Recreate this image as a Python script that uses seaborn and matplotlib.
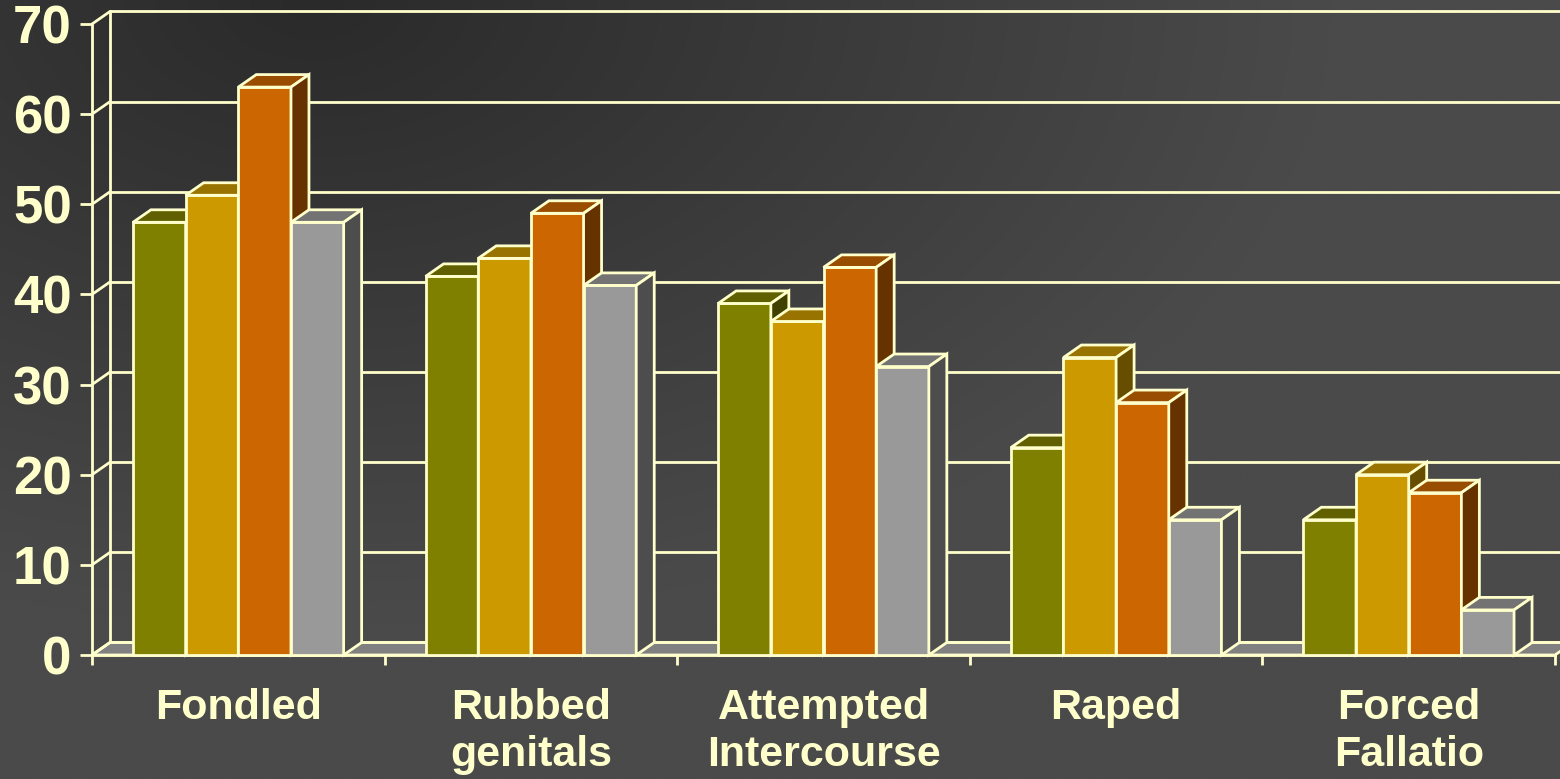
import numpy as np
import pandas as pd
import seaborn as sns
import matplotlib.pyplot as plt
from matplotlib.patches import Polygon
from matplotlib.colors import to_rgb

categories = ['Fondled', 'Rubbed\ngenitals', 'Attempted\nIntercourse', 'Raped', 'Forced\nFallatio']
series = ['Series 1', 'Series 2', 'Series 3', 'Series 4']
series1 = [48, 42, 39, 23, 15]
series2 = [51, 44, 37, 33, 20]
series3 = [63, 49, 43, 28, 18]
series4 = [48, 41, 32, 15, 5]
yticks = [0, 10, 20, 30, 40, 50, 60, 70]

colors = ['#808000', '#CC9900', '#CC6600', '#999999']
cream = '#FFFFCC'
LW = 2.0

df = pd.DataFrame({
    'category': categories * 4,
    'series': [s for s in series for _ in categories],
    'value': series1 + series2 + series3 + series4,
})

sns.set_style('ticks')
plt.rcParams['font.family'] = ['Liberation Sans', 'DejaVu Sans']
plt.rcParams['font.weight'] = 'bold'

fig = plt.figure(figsize=(15.6, 7.79), dpi=100)

# dark gradient backdrop
bg = fig.add_axes([0, 0, 1, 1], zorder=-5)
gx, gy = np.meshgrid(np.linspace(0, 1, 400), np.linspace(0, 1, 200))
d = np.clip(np.sqrt(((gx - 0.2) / 0.65) ** 2 + (gy / 0.8) ** 2), 0, 1)
g = (0x2a + d * (0x4a - 0x2a)) / 255
bg.imshow(np.dstack([g, g, g]), aspect='auto', extent=[0, 1, 0, 1], interpolation='bicubic')
bg.axis('off')

ax = fig.add_axes([92 / 1560, 124 / 779, 1463 / 1560, 631 / 779])
ax.set_facecolor('none')

# depth offset of the 3d look, in data units
DX = 18 / 292.6
DY = 12.5 / 9.0

# floor
ax.add_patch(Polygon([(-0.5, 0), (4.5, 0), (4.5 + DX, DY), (-0.5 + DX, DY)],
                     closed=True, facecolor='#808080', edgecolor=cream, lw=LW,
                     zorder=1, clip_on=False))

# back wall grid and side connectors
for v in yticks:
    ax.plot([-0.5 + DX, 4.6 + DX], [v + DY, v + DY], color=cream, lw=LW, zorder=1.5, clip_on=False)
    ax.plot([-0.5, -0.5 + DX], [v, v + DY], color=cream, lw=LW, zorder=1.5, clip_on=False)
ax.plot([-0.5 + DX, -0.5 + DX], [DY, 70 + DY], color=cream, lw=LW, zorder=1.5, clip_on=False)

sns.barplot(data=df, x='category', y='value', hue='series', palette=colors,
            width=0.72, saturation=1, edgecolor=cream, linewidth=LW,
            legend=False, errorbar=None, ax=ax)

bars = sorted([p for p in ax.patches if hasattr(p, 'get_width') and p.get_height() > 0],
              key=lambda p: p.get_x())
for k, p in enumerate(bars):
    x, w, h = p.get_x(), p.get_width(), p.get_height()
    z = 3 + 0.01 * k
    p.set_zorder(z)
    p.set_clip_on(False)
    base = np.array(to_rgb(p.get_facecolor()))
    top = Polygon([(x, h), (x + w, h), (x + w + DX, h + DY), (x + DX, h + DY)], closed=True,
                  facecolor=base * 0.75, edgecolor=cream, lw=LW, zorder=z, clip_on=False)
    side = Polygon([(x + w, 0), (x + w + DX, DY), (x + w + DX, h + DY), (x + w, h)], closed=True,
                   facecolor=base * 0.5, edgecolor=cream, lw=LW, zorder=z, clip_on=False)
    ax.add_patch(top)
    ax.add_patch(side)

ax.set_xlim(-0.5, 4.5)
ax.set_ylim(0, 70)
ax.set_xlabel('')
ax.set_ylabel('')

for s in ['top', 'right']:
    ax.spines[s].set_visible(False)
for s in ['left', 'bottom']:
    ax.spines[s].set_color(cream)
    ax.spines[s].set_linewidth(LW)
    ax.spines[s].set_zorder(2)

ax.set_yticks(yticks)
ax.set_yticklabels([str(v) for v in yticks], fontsize=38, fontweight='bold', color=cream)
ax.tick_params(axis='y', length=8.6, width=LW, color=cream, pad=6)

ax.set_xticks(range(len(categories)))
ax.set_xticklabels(categories, fontsize=31, fontweight='bold', color=cream, linespacing=1.22)
ax.set_xticks(np.arange(-0.5, 5, 1), minor=True)
ax.tick_params(axis='x', which='major', length=0, pad=24)
ax.tick_params(axis='x', which='minor', length=7.2, width=LW, color=cream)

fig.savefig('out.png', dpi=100)
